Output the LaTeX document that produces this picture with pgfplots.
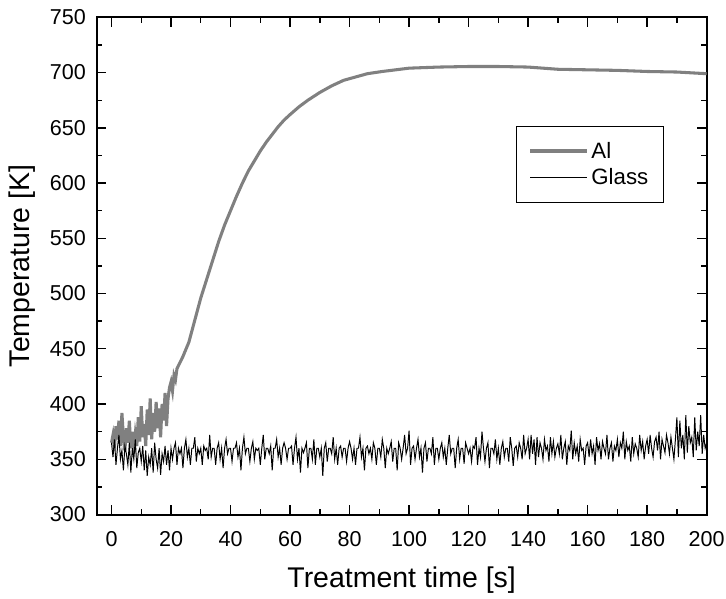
\documentclass[border=0pt]{standalone}
\usepackage{fontspec}
\setmainfont{Liberation Sans}
\usepackage{pgfplots}
\pgfplotsset{compat=1.18}
\begin{document}
\begin{tikzpicture}
\begin{axis}[
  scale only axis,
  width=439pt, height=357.8pt,
  xmin=-5, xmax=200, ymin=300, ymax=750,
  xtick={0,20,...,200}, ytick={300,350,...,750},
  minor x tick num=1, minor y tick num=1,
  tick align=inside, major tick length=7pt, minor tick length=4pt,
  every tick/.style={black, line width=1pt},
  axis line style={line width=1.4pt},
  /pgf/number format/assume math mode=true,
  /pgf/number format/1000 sep={},
  tick label style={font=\fontsize{15.5}{18}\selectfont, inner sep=1pt},
  xticklabel style={yshift=-11pt},
  yticklabel style={xshift=-6.5pt},
  label style={font=\fontsize{20.5}{24}\selectfont},
  xlabel={Treatment time [s]}, ylabel={Temperature [K]},
  xlabel style={yshift=-10pt},
  ylabel style={yshift=6pt},
  legend style={at={(0.687,0.781)}, anchor=north west, draw=black, line width=0.6pt,
    font=\fontsize{16}{19}\selectfont, inner xsep=9pt, inner ysep=9pt, row sep=2pt},
  legend cell align=left,
  legend image code/.code={\draw[#1] (0pt,0pt) -- (41pt,0pt);},
]
\addplot[color={rgb,255:red,128;green,128;blue,128}, line width=2.2pt] coordinates {
(0,365)(0.5,372)(1,360)(1.5,380)(2,368)(2.5,385)(3,362)(3.5,392)(4,370)(4.5,358)
(5,378)(5.5,365)(6,385)(6.5,360)(7,375)(7.5,355)(8,372)(8.5,362)(9,388)(9.5,366)
(10,398)(10.5,370)(11,382)(11.5,362)(12,395)(12.5,372)(13,405)(13.5,368)(14,392)(14.5,375)
(15,402)(15.5,378)(16,396)(16.5,370)(17,400)(17.5,385)(18,410)(18.5,380)(19,405)(19.5,415)
(20,420)(20.5,412)(21,426)(21.5,422)(22,432)(24,443)(26,456)(28,476)(30,496)(32,513)
(34,530)(36,547)(38,562)(40,575)(42,588)(44,600)(46,611)(48,620)(50,629)(52,637)
(54,644)(56,651)(58,657)(60,662)(63,669)(66,675)(70,682)(74,688)(78,693)(82,696)
(86,699)(91,701)(100,704)(110,705)(120,705.5)(130,705.5)(140,705)(145,704)(150,703)(160,702.5)
(170,702)(180,701)(190,700.5)(200,699)
};
\addlegendentry{Al}
\addplot[black, line width=0.7pt] table[x expr=\coordindex*0.5, y index=0, header=false, row sep=\\] {
365\\352\\368\\345\\360\\372\\350\\358\\340\\362\\355\\345\\365\\338\\360\\350\\368\\342\\356\\360\\
348\\362\\340\\358\\335\\352\\345\\360\\338\\365\\350\\342\\360\\336\\355\\348\\362\\345\\358\\340\\
360\\350\\360\\365\\345\\360\\355\\360\\342\\360\\368\\352\\360\\345\\360\\360\\370\\348\\360\\355\\
360\\345\\362\\358\\360\\350\\372\\352\\360\\360\\345\\360\\365\\350\\360\\342\\360\\368\\355\\360\\
360\\348\\360\\360\\365\\352\\360\\340\\360\\370\\355\\360\\360\\348\\360\\366\\350\\360\\358\\360\\
345\\360\\372\\350\\360\\360\\355\\362\\340\\360\\360\\368\\352\\360\\345\\360\\365\\360\\350\\360\\
360\\362\\345\\360\\370\\350\\360\\338\\360\\356\\360\\365\\342\\360\\360\\350\\368\\345\\360\\360\\
352\\360\\335\\360\\365\\348\\360\\360\\355\\370\\350\\360\\345\\360\\362\\352\\360\\360\\348\\360\\
366\\360\\350\\360\\345\\360\\360\\370\\352\\360\\340\\360\\362\\355\\360\\350\\365\\360\\345\\360\\
360\\352\\368\\360\\342\\360\\355\\360\\366\\348\\360\\360\\340\\365\\360\\350\\360\\372\\355\\360\\
376\\345\\360\\362\\350\\360\\368\\352\\360\\338\\360\\365\\348\\360\\360\\355\\370\\345\\360\\360\\
350\\360\\365\\352\\360\\345\\360\\372\\355\\360\\360\\342\\360\\368\\350\\360\\360\\346\\365\\360\\
355\\360\\348\\362\\360\\370\\345\\360\\352\\375\\360\\348\\360\\365\\342\\360\\360\\355\\368\\350\\
360\\345\\360\\366\\352\\360\\360\\348\\370\\360\\344\\360\\362\\352\\365\\360\\350\\372\\355\\360\\
368\\350\\372\\355\\368\\345\\370\\352\\365\\360\\350\\368\\358\\362\\348\\370\\355\\366\\352\\360\\
364\\355\\372\\350\\360\\366\\345\\362\\358\\376\\350\\365\\355\\362\\348\\368\\358\\360\\345\\362\\
365\\352\\368\\355\\362\\345\\370\\358\\364\\350\\366\\360\\355\\372\\350\\360\\365\\348\\362\\358\\
368\\352\\365\\360\\375\\350\\366\\358\\362\\348\\370\\355\\364\\360\\352\\372\\358\\366\\350\\362\\
368\\355\\372\\360\\352\\366\\370\\358\\375\\350\\368\\362\\356\\372\\365\\355\\370\\360\\350\\368\\
388\\352\\385\\360\\372\\350\\390\\356\\380\\365\\370\\352\\388\\358\\375\\362\\390\\355\\372\\360\\365\\
};
\addlegendentry{Glass}
\end{axis}
\path ([xshift=-3pt]current bounding box.west) ([yshift=6pt]current bounding box.north);
\end{tikzpicture}
\end{document}
